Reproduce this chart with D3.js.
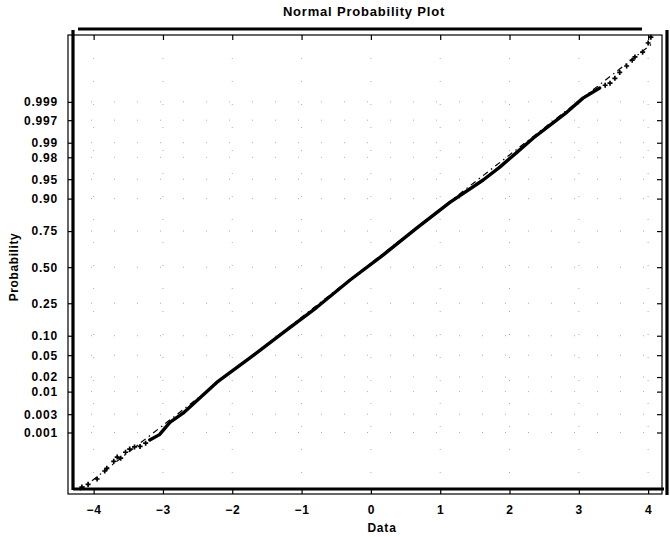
<!DOCTYPE html>
<html>
<head>
<meta charset="utf-8">
<script src="https://cdn.jsdelivr.net/npm/d3@7"></script>
<style>
  body { margin: 0; background: #fff; }
  text { font-family: "Liberation Sans", Arial, sans-serif; font-weight: bold; fill: #000; }
</style>
</head>
<body>
<div id="vis"></div>
<script>
// values (data value, normal score)
var bodyData  = [-3.19, -3.05, -2.90, -2.71, -2.22, -1.75, -1.27, -0.78, -0.30, 0.17, 0.66, 1.14, 1.62, 1.86, 2.11, 2.34, 2.58, 2.83, 3.06, 3.30];
var bodyScore = [-3.23, -3.13, -2.90, -2.73, -2.15, -1.70, -1.23, -0.75, -0.24, 0.22, 0.73, 1.21, 1.63, 1.87, 2.15, 2.41, 2.65, 2.90, 3.16, 3.35];

var tailData  = [-4.17, -4.08, -3.95, -3.84, -3.81, -3.71, -3.66, -3.61, -3.54, -3.48, -3.41, -3.33, -3.25,
                 3.38, 3.45, 3.52, 3.59, 3.69, 3.77, 3.81, 3.92, 4.00, 4.04];
var tailScore = [-4.11, -4.06, -3.96, -3.81, -3.76, -3.63, -3.55, -3.57, -3.46, -3.40, -3.36, -3.35, -3.29,
                 3.40, 3.44, 3.53, 3.64, 3.76, 3.87, 3.93, 4.02, 4.19, 4.30];

var refData  = [-4.20, 4.05];
var refScore = [-4.17, 4.17];

var xTicks = [-4, -3, -2, -1, 0, 1, 2, 3, 4];
var probTicks = ["0.001", "0.003", "0.01", "0.02", "0.05", "0.10", "0.25", "0.50", "0.75", "0.90", "0.95", "0.98", "0.99", "0.997", "0.999"];

// inverse normal cdf (Acklam) for placing probability ticks
function qnorm(p) {
  var a = [-39.6968302866538, 220.946098424521, -275.928510446969, 138.357751867269, -30.6647980661472, 2.50662827745924],
      b = [-54.4760987982241, 161.585836858041, -155.698979859887, 66.8013118877197, -13.2806815528857],
      c = [-0.00778489400243029, -0.322396458041136, -2.40075827716184, -2.54973253934373, 4.37466414146497, 2.93816398269878],
      d = [0.00778469570904146, 0.32246712907004, 2.445134137143, 3.75440866190742];
  var q, r;
  if (p < 0.02425) {
    q = Math.sqrt(-2 * Math.log(p));
    return (((((c[0]*q+c[1])*q+c[2])*q+c[3])*q+c[4])*q+c[5]) / ((((d[0]*q+d[1])*q+d[2])*q+d[3])*q+1);
  } else if (p > 1 - 0.02425) {
    q = Math.sqrt(-2 * Math.log(1 - p));
    return -(((((c[0]*q+c[1])*q+c[2])*q+c[3])*q+c[4])*q+c[5]) / ((((d[0]*q+d[1])*q+d[2])*q+d[3])*q+1);
  }
  q = p - 0.5; r = q * q;
  return (((((a[0]*r+a[1])*r+a[2])*r+a[3])*r+a[4])*r+a[5])*q / (((((b[0]*r+b[1])*r+b[2])*r+b[3])*r+b[4])*r+1);
}

var W = 670, H = 537;
var pl = 68, pr = 662, pt = 35, pb = 494;

var x = d3.scaleLinear().domain([-4.37, 4.20]).range([pl, pr]),
    y = d3.scaleLinear().domain([-4.24, 4.34]).range([pb, pt]);

var svg = d3.select("#vis").append("svg")
    .attr("width", W)
    .attr("height", H);

// faint dotted grid (mostly lost in the scan)
var grid = svg.append("g").attr("stroke", "#999").attr("stroke-width", 0.8).attr("stroke-dasharray", "1,22");
grid.selectAll(".gx").data(xTicks).enter().append("line")
    .attr("x1", function(d){ return x(d); }).attr("x2", function(d){ return x(d); })
    .attr("y1", pt).attr("y2", pb);
grid.selectAll(".gy").data(probTicks).enter().append("line")
    .attr("x1", pl).attr("x2", pr)
    .attr("y1", function(d){ return y(qnorm(+d)); }).attr("y2", function(d){ return y(qnorm(+d)); });

// frame
svg.append("rect")
    .attr("x", pl).attr("y", pt)
    .attr("width", pr - pl).attr("height", pb - pt)
    .attr("fill", "none").attr("stroke", "#000").attr("stroke-width", 1.2);

// axes, ticks pointing inside
var yTickVals = probTicks.map(function(d){ return qnorm(+d); });
var xAxisB = d3.axisBottom(x).tickValues(xTicks).tickSizeInner(-5).tickSizeOuter(0).tickPadding(11),
    xAxisT = d3.axisTop(x).tickValues(xTicks).tickSizeInner(-5).tickSizeOuter(0).tickFormat(""),
    yAxisL = d3.axisLeft(y).tickValues(yTickVals)
               .tickFormat(function(d, i){ return probTicks[i]; }).tickSizeInner(-5).tickSizeOuter(0).tickPadding(10),
    yAxisR = d3.axisRight(y).tickValues(yTickVals)
               .tickSizeInner(-5).tickSizeOuter(0).tickFormat("");

[[xAxisB, "translate(0," + pb + ")"], [xAxisT, "translate(0," + pt + ")"],
 [yAxisL, "translate(" + pl + ",0)"], [yAxisR, "translate(" + pr + ",0)"]].forEach(function(a) {
  var g = svg.append("g").attr("transform", a[1]).call(a[0]);
  g.select(".domain").remove();
  g.selectAll("line").attr("stroke", "#000").attr("stroke-width", 1.2);
  g.selectAll("text").attr("font-size", 12).attr("letter-spacing", 0.8)
    .attr("font-family", "Liberation Sans, Arial, sans-serif").attr("font-weight", "bold");
});

// reference line (dash-dot)
var ref = d3.zip(refData, refScore);
svg.append("path")
    .datum(ref)
    .attr("d", d3.line().x(function(d){ return x(d[0]); }).y(function(d){ return y(d[1]); }))
    .attr("fill", "none").attr("stroke", "#000").attr("stroke-width", 1.2)
    .attr("stroke-dasharray", "6,4,1.5,4");

// sample: body merges into a thick line
var body = d3.zip(bodyData, bodyScore);
svg.append("path")
    .datum(body)
    .attr("d", d3.line().x(function(d){ return x(d[0]); }).y(function(d){ return y(d[1]); }))
    .attr("fill", "none").attr("stroke", "#000").attr("stroke-width", 3.4)
    .attr("stroke-linecap", "round").attr("stroke-linejoin", "round");

// tail markers
var tails = d3.zip(tailData, tailScore);
svg.selectAll(".tail").data(tails).enter().append("path")
    .attr("transform", function(d){ return "translate(" + x(d[0]) + "," + y(d[1]) + ")"; })
    .attr("d", d3.symbol().type(d3.symbolCross).size(14))
    .attr("fill", "#000");

// scan artefacts: heavy border strokes
var heavy = svg.append("g").attr("stroke", "#000").attr("stroke-width", 3.2);
heavy.append("line").attr("x1", 73).attr("x2", 73).attr("y1", 30).attr("y2", 490);
heavy.append("line").attr("x1", 73).attr("x2", 664).attr("y1", 489).attr("y2", 489);
heavy.append("line").attr("x1", 78).attr("x2", 642).attr("y1", 29).attr("y2", 29);
heavy.append("line").attr("x1", 667).attr("x2", 667).attr("y1", 30).attr("y2", 495);

// labels
svg.append("text")
    .attr("x", 364).attr("y", 16)
    .attr("text-anchor", "middle").attr("font-size", 13).attr("letter-spacing", 0.8)
    .text("Normal Probability Plot");

svg.append("text")
    .attr("x", 382).attr("y", 532)
    .attr("text-anchor", "middle").attr("font-size", 12).attr("letter-spacing", 0.8)
    .text("Data");

svg.append("text")
    .attr("transform", "translate(18,267) rotate(-90)")
    .attr("text-anchor", "middle").attr("font-size", 12).attr("letter-spacing", 0.6)
    .text("Probability");
</script>
</body>
</html>
